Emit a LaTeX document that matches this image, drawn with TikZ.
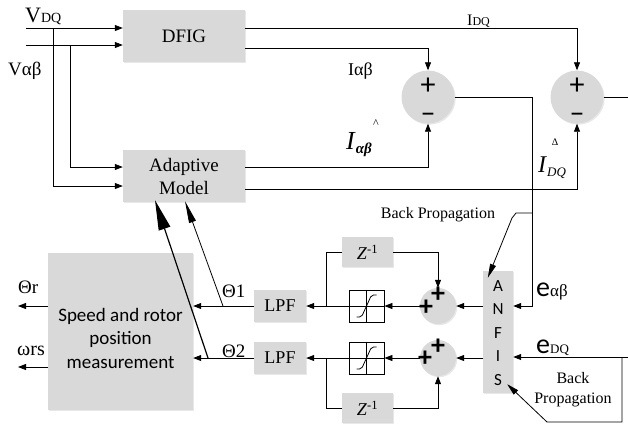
\documentclass[tikz,border=0pt]{standalone}
\usepackage{fontspec}
\setmainfont{Liberation Serif}
\newfontfamily\calib{Carlito}
\usetikzlibrary{arrows.meta,shadows,calc}
\definecolor{boxgray}{RGB}{217,217,217}
\begin{document}
\begin{tikzpicture}[x=1pt,y=-1pt,
  line/.style={draw=black, line width=0.8pt},
  arr/.style={line, -{Triangle[length=8pt,width=6pt]}},
  gbox/.style={fill=boxgray, draw=none, inner sep=0pt,
     drop shadow={opacity=0.18, shadow xshift=1.2pt, shadow yshift=-1.2pt}},
  lab/.style={anchor=base west, inner sep=0pt},
  satbox/.style={draw=black, line width=0.8pt, fill=white, inner sep=0pt,
     minimum width=35pt, minimum height=32pt},
  sgn/.style={inner sep=0pt, align=center, font=\calib\fontsize{30}{28}\selectfont},
  bsgn/.style={inner sep=0pt, font=\calib\bfseries\fontsize{28}{28}\selectfont}
]
\useasboundingbox (0,0) rectangle (628,432);

% blocks
\node[gbox, minimum width=122pt, minimum height=52pt, font=\fontsize{19}{22}\selectfont] (dfig) at (184,36) {DFIG};
\node[gbox, minimum width=122pt, minimum height=52pt, align=center, font=\fontsize{19}{23}\selectfont] (adapt) at (184,176) {Adaptive\\Model};
\node[gbox, circle, minimum size=53pt] (sum1) at (428,97) {};
\node[gbox, circle, minimum size=53pt] (sum2) at (577,97) {};
\node[sgn] (s1) at (428,100) {+\\–};
\node[sgn] (s2) at (577,100) {+\\–};

\node[gbox, minimum width=145pt, minimum height=157pt] (speed) at (120.5,331.5) {};
\node[inner sep=0pt, align=center, font=\calib\fontsize{19}{23.5}\selectfont] (speedtxt) at (120.5,338) {Speed and rotor\\position\\measurement};

\node[gbox, minimum width=52pt, minimum height=32pt, font=\fontsize{18}{18}\selectfont] (lpf1) at (280,306) {LPF};
\node[gbox, minimum width=52pt, minimum height=32pt, font=\fontsize{18}{18}\selectfont] (lpf2) at (280,358) {LPF};

\node[satbox] (sat1) at (366.5,306) {};
\node[satbox] (sat2) at (366.5,358) {};
\foreach \s in {sat1,sat2}{
  \draw[line] (\s.north) -- (\s.south);
  \draw[line] (\s.west) -- (\s.east);
  \draw[line, rounded corners=2pt] ($(\s.center)+(-10,11)$) -- ($(\s.center)+(-5,11)$)
     -- ($(\s.center)+(5,-11)$) -- ($(\s.center)+(10,-11)$);
}

\node[gbox, minimum width=51pt, minimum height=30pt, font=\fontsize{18}{18}\selectfont] (z1) at (367.5,252) {\textit{Z}\textsuperscript{-1}};
\node[gbox, minimum width=51pt, minimum height=30pt, font=\fontsize{18}{18}\selectfont] (z2) at (367.5,408) {\textit{Z}\textsuperscript{-1}};

\node[gbox, circle, minimum size=36pt] (c1) at (438,306) {};
\node[gbox, circle, minimum size=36pt] (c2) at (438,358) {};
\node[bsgn] (c1l) at (426,308) {+};
\node[bsgn] (c1t) at (438,295) {+};
\node[bsgn] (c2l) at (425,359) {+};
\node[bsgn] (c2t) at (438,347) {+};

\node[gbox, minimum width=30pt, minimum height=122pt] (anfis) at (498,332) {};
\node[inner sep=0pt, align=center, font=\calib\fontsize{17}{23.5}\selectfont] (anfistxt) at (498,333) {A\\N\\F\\I\\S};

% inputs
\coordinate (vdq) at (26,28);
\coordinate (vab) at (26,45);
\draw[arr] (vdq) -- (vdq -| dfig.west);
\draw[arr] (vab) -- (vab -| dfig.west);
\coordinate (j1) at (53,28);
\coordinate (j1b) at (53,186);
\draw[arr] (j1) -- (j1b) -- (j1b -| adapt.west);
\coordinate (j2) at (70,45);
\coordinate (j2b) at (70,167);
\draw[arr] (j2) -- (j2b) -- (j2b -| adapt.west);

% outputs to summers
\coordinate (idq) at (577,28);
\draw[arr] (idq -| dfig.east) -- (idq) -- (sum2.north);
\coordinate (iab) at (428,48);
\draw[arr] (iab -| dfig.east) -- (iab) -- (sum1.north);
\coordinate (ihab) at (428,167);
\draw[arr] (ihab -| adapt.east) -- (ihab) -- (sum1.south);
\coordinate (ihdq) at (577,189);
\draw[arr] (ihdq -| adapt.east) -- (ihdq) -- (sum2.south);
\coordinate (out2) at (628,97);
\draw[line] (sum2.east) -- (out2);

% error to ANFIS
\coordinate (e1) at (532,97);
\coordinate (e1b) at (532,306);
\draw[arr] (sum1.east) -- (e1) -- (e1b) -- (e1b -| anfis.east);
\coordinate (bp1) at (532,213);
\coordinate (bp1b) at (516,213);
\coordinate (bp1c) at (512,218);
\draw[line, -{Triangle[length=14pt,width=6pt]}] (bp1) -- (bp1b) -- (bp1c) -- ($(anfis.north west)+(5,7)$);
\coordinate (edq) at (628,357);
\draw[arr] (edq) -- (edq -| anfis.east);
\coordinate (bp2a) at (622,357);
\coordinate (bp2b) at (622,422);
\coordinate (bp2c) at (547,422);
\draw[line, -{Triangle[length=12pt,width=6pt]}] (bp2a) -- (bp2b) -- (bp2c) -- ($(anfis.south east)+(-6,-9)$);

% ANFIS outputs
\draw[arr] (anfis.west |- c1) -- (c1.east);
\draw[arr] (anfis.west |- c2) -- (c2.east);
\draw[arr] (z1.east) -| (c1.north);
\draw[arr] (z2.east) -| (c2.south);
\draw[arr] (c1.west) -- (sat1.east);
\draw[arr] (c2.west) -- (sat2.east);
\draw[arr] (sat1.west) -- (lpf1.east);
\draw[arr] (sat2.west) -- (lpf2.east);
\coordinate (b1) at (326,306);
\coordinate (b2) at (326,358);
\draw[line] (b1) |- (z1.west);
\draw[line] (b2) |- (z2.west);
\draw[arr] (lpf1.west) -- (lpf1.west -| speed.east);
\draw[arr] (lpf2.west) -- (lpf2.west -| speed.east);

% theta feedback to adaptive model
\coordinate (t1) at (223,306);
\coordinate (t2) at (208,358);
\draw[line, -{Triangle[length=22pt,width=7pt]}] (t1) -- ($(adapt.south)+(1,-1)$);
\draw[line, line width=1.2pt, -{Triangle[length=30pt,width=12pt]}] (t2) -- ($(adapt.south)+(-29,-2)$);

% measurement outputs
\coordinate (thr) at (18,306);
\coordinate (wrs) at (18,367);
\draw[arr] (thr -| speed.west) -- (thr);
\draw[arr] (wrs -| speed.west) -- (wrs);

% labels
\node[lab] (lvdq) at (25,22) {\fontsize{22}{22}\selectfont V\fontsize{14}{14}\selectfont DQ};
\node[lab] (lvab) at (8,75) {\fontsize{19}{19}\selectfont Vαβ};
\node[lab] (lidq) at (467,25) {\fontsize{16}{16}\selectfont I\fontsize{12}{12}\selectfont DQ};
\node[lab] (liab) at (348,75) {\fontsize{18}{18}\selectfont Iαβ};
\node[lab] (lhab) at (346,149) {\fontsize{26}{26}\selectfont\textit{I}\raisebox{-4pt}{\fontsize{15}{15}\selectfont\textit{\textbf{αβ}}}};
\node[inner sep=0pt, font=\fontsize{12}{12}\selectfont] (lhabhat) at (376,124) {\textasciicircum};
\node[lab] (lhdq) at (538,172) {\fontsize{24}{24}\selectfont\textit{I}\raisebox{-4pt}{\fontsize{13}{13}\selectfont\textit{DQ}}};
\node[inner sep=0pt, font=\fontsize{10}{10}\selectfont] (lhdqhat) at (555,142) {Δ};
\node[lab] (lthr) at (18,293) {\fontsize{19}{19}\selectfont Θr};
\node[lab] (lwrs) at (17,355) {\fontsize{20}{20}\selectfont ωrs};
\node[lab] (lth1) at (222,297) {\fontsize{19}{19}\selectfont Θ1};
\node[lab] (lth2) at (222,357) {\fontsize{19}{19}\selectfont Θ2};
\node[lab] (leab) at (536,296) {{\calib\fontsize{28}{28}\selectfont e}{\fontsize{17}{17}\selectfont αβ}};
\node[lab] (ledq) at (536,353) {{\calib\fontsize{28}{28}\selectfont e}{\fontsize{13}{13}\selectfont DQ}};
\node[inner sep=0pt, font=\fontsize{16}{16}\selectfont] (bpl1) at (438,215) {Back Propagation};
\node[inner sep=0pt, align=center, font=\fontsize{16}{20}\selectfont] (bpl2) at (573,390) {Back\\Propagation};
\end{tikzpicture}
\end{document}
